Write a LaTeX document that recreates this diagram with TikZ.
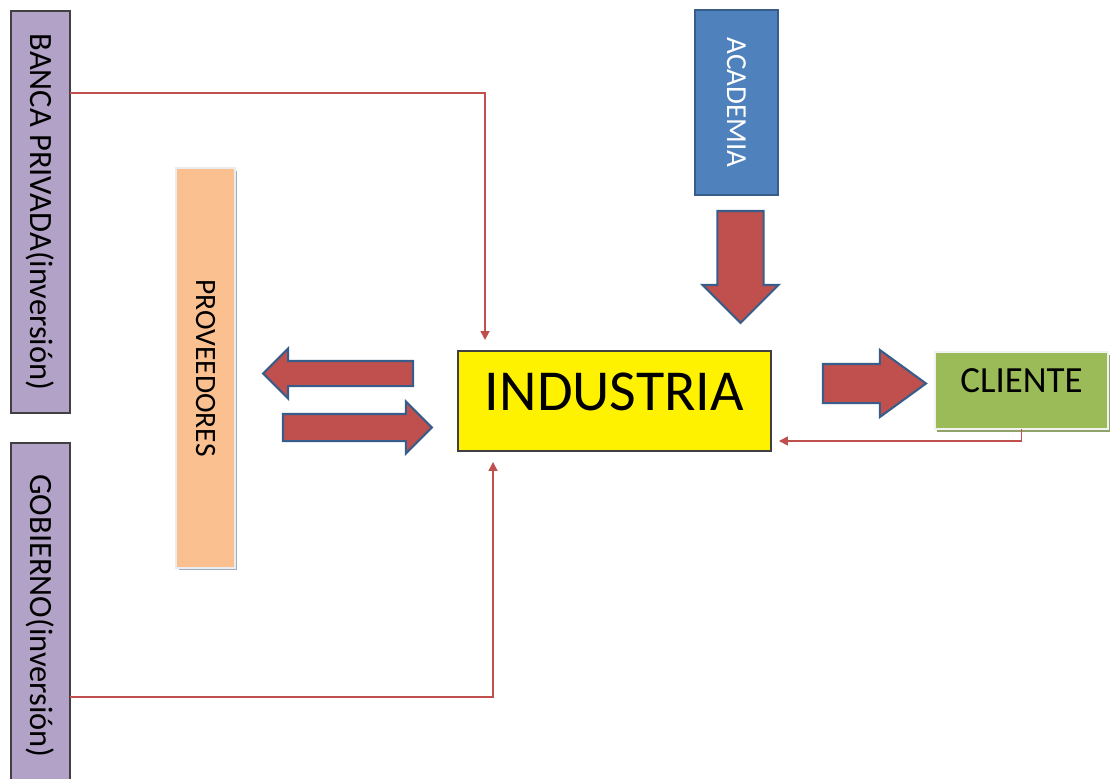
\documentclass[tikz,border=0pt]{standalone}
\usepackage{fontspec}
\usepackage{graphicx}
\setmainfont{Carlito}
\usetikzlibrary{arrows.meta,shapes.arrows,shadows}
\definecolor{lila}{HTML}{B3A2C7}
\definecolor{melocoton}{HTML}{FAC090}
\definecolor{azul}{HTML}{4F81BD}
\definecolor{azulborde}{HTML}{385D8A}
\definecolor{verde}{HTML}{9BBB59}
\definecolor{rojo}{HTML}{C0504D}
\definecolor{gris}{HTML}{404040}
\tikzset{
  caja/.style={draw=gris, line width=0.8pt, inner sep=0pt, outer sep=0pt},
  flecha/.style={single arrow, draw=azulborde, fill=rojo, line width=1.2pt, inner sep=0pt, outer sep=0pt, text depth=0pt, single arrow head indent=0pt},
  enlace/.style={draw=rojo, line width=0.9pt, -{Triangle[length=5pt,width=5pt]}}
}
\begin{document}
\begin{tikzpicture}[x=0.02cm,y=-0.02cm]
    \useasboundingbox (0,0) rectangle (1111,778);
    \clip (0,0) rectangle (1111,778);
    % cajas
    \node[caja, fill=lila, minimum width=1.18cm, minimum height=8.04cm, font=\fontsize{18.5}{20}\selectfont] (banca) at (40.5,212) {\rotatebox{-90}{BANCA PRIVADA(inversión)}};
    \node[caja, fill=lila, minimum width=1.18cm, minimum height=7.14cm, anchor=north] (gob) at (40.5,443) {};
    \node[anchor=north, inner sep=0pt, font=\fontsize{18.5}{20}\selectfont] (gobtxt) at ([yshift=-0.62cm]gob.north) {\rotatebox{-90}{GOBIERNO(inversión)}};
    \node[caja, draw=gray!15, line width=1.5pt, fill=melocoton, minimum width=1.18cm, minimum height=8cm, drop shadow={shadow xshift=0.05cm, shadow yshift=-0.05cm, fill=azulborde!50, opacity=1}, font=\fontsize{16.8}{18}\selectfont] (prov) at (205.5,368) {\rotatebox{-90}{PROVEEDORES}};
    \node[caja, draw=azulborde, line width=1.2pt, fill=azul, text=white, minimum width=1.66cm, minimum height=3.7cm, font=\fontsize{16.5}{18}\selectfont] (acad) at (736.5,102.5) {\rotatebox{-90}{ACADEMIA}};
    \node[caja, fill=yellow, minimum width=6.26cm, minimum height=2cm, text depth=0.36cm, font=\fontsize{33}{36}\selectfont] (ind) at (614.5,401) {INDUSTRIA};
    \node[caja, draw=gray!10, line width=1.5pt, fill=verde, minimum width=3.46cm, minimum height=1.54cm, text depth=0.4cm, drop shadow={shadow xshift=0.03cm, shadow yshift=-0.06cm, fill=verde!60!gray, opacity=1}, font=\fontsize{21}{24}\selectfont] (cli) at (1021.5,390.5) {CLIENTE};
    % flechas gruesas
    \node[flecha, anchor=tail, rotate=-90, minimum height=2.24cm, minimum width=1.52cm, text height=0.74cm] (acadarr) at (740.5,211) {};
    \node[flecha, anchor=tail, rotate=180, minimum height=3cm, minimum width=1cm, text height=0.46cm] (provarr) at (413,373.5) {};
    \node[flecha, anchor=tail, minimum height=2.98cm, minimum width=1.02cm, text height=0.5cm] (indarr) at (283,427.5) {};
    \node[flecha, anchor=tail, single arrow tip angle=72, minimum height=2.06cm, minimum width=1.34cm, text height=0.66cm] (cliarr) at (823,383.5) {};
    % enlaces
    \draw[enlace, shorten >=0.22cm] (banca.east |- 0,93) -| ([xshift=0.54cm]ind.north west);
    \draw[enlace, shorten >=0.22cm] (gob.east |- 0,697) -| ([xshift=0.7cm]ind.south west);
    \draw[enlace, shorten >=0.16cm] (cli.south) |- (ind.east |- 0,441);
\end{tikzpicture}
\end{document}
